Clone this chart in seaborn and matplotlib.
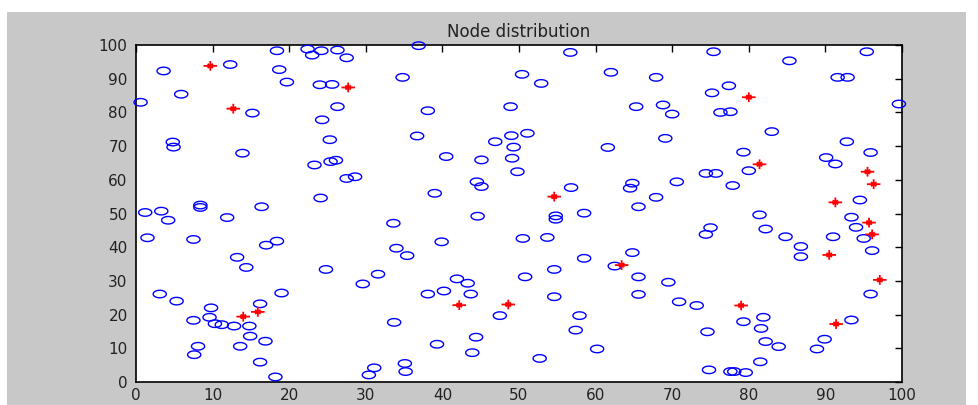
import numpy as np
import matplotlib
matplotlib.use("Agg")
import matplotlib.pyplot as plt
import seaborn as sns
from matplotlib.path import Path
from matplotlib.patches import Rectangle

# sensor nodes (blue circles)
node_x = [3.6, 0.6, 5.9, 4.8, 4.9, 12.3, 15.2, 13.9, 18.4, 18.7, 19.7, 22.4, 23.0, 24.2,
          24.0, 25.6, 24.3, 25.3, 23.3, 25.4, 26.1, 24.1, 8.4, 8.4, 16.4, 1.2, 3.3, 4.2,
          1.5, 7.5, 11.9, 13.2, 14.4, 17.0, 18.4, 24.8, 3.1, 5.3, 19.0, 16.2, 9.8, 9.6,
          7.5, 10.3, 11.2, 12.8, 14.8, 14.9, 16.9, 13.6, 8.1, 7.6, 16.2, 18.2,
          26.3, 27.5, 36.9, 34.8, 26.3, 38.1, 36.7, 40.5, 27.5, 28.6, 39.0, 45.1, 46.9,
          48.9, 50.4, 49.0, 49.3, 49.1, 49.8, 44.5, 45.1, 44.6,
          33.6, 39.9, 34.0, 35.4, 31.6, 29.6, 41.9, 43.3, 38.1, 40.2, 43.7, 47.5, 33.7,
          44.4, 39.3, 43.9, 35.1, 35.2, 31.1, 30.4, 50.5, 50.8,
          56.7, 52.9, 62.0, 67.9, 75.4, 75.2, 65.3, 68.8, 70.0, 51.1, 61.6, 69.1, 56.8,
          64.8, 64.5, 70.6, 67.9, 65.6,
          54.8, 54.8, 58.5, 53.7, 58.5, 64.8, 62.5, 54.6, 65.6, 69.5, 65.6, 54.6, 70.9,
          73.2, 57.9, 57.4, 60.2, 52.7, 74.6, 74.8, 74.4, 75.0,
          85.3, 95.4, 91.6, 92.9, 77.4, 76.3, 77.6, 99.6, 83.0, 92.8, 79.3, 95.9, 90.1,
          91.3, 80.0, 74.4, 75.7, 77.9, 94.5,
          81.4, 82.2, 84.8, 86.8, 86.8, 91.0, 93.4, 94.0, 95.0, 96.1, 95.9, 79.3, 81.9,
          81.6, 93.4, 82.2, 83.9, 89.9, 88.9, 81.5, 77.6, 78.1, 79.6]
node_y = [92.3, 83.0, 85.4, 71.2, 69.7, 94.2, 79.8, 67.9, 98.3, 92.7, 89.0, 98.8, 97.0, 98.3,
          88.2, 88.3, 77.8, 71.9, 64.4, 65.4, 65.8, 54.6, 52.5, 51.8, 52.0, 50.3, 50.7, 48.0,
          42.8, 42.3, 48.8, 37.0, 34.0, 40.6, 41.8, 33.4, 26.1, 24.0, 26.4, 23.2, 22.0, 19.2,
          18.3, 17.3, 17.0, 16.6, 16.6, 13.6, 12.1, 10.6, 10.6, 8.1, 5.9, 1.5,
          98.5, 96.2, 99.8, 90.4, 81.7, 80.5, 73.0, 66.9, 60.4, 60.9, 56.0, 65.9, 71.3,
          81.7, 91.3, 73.1, 69.7, 66.4, 62.4, 59.4, 58.0, 49.2,
          47.1, 41.6, 39.7, 37.5, 32.0, 29.1, 30.6, 29.3, 26.1, 27.0, 26.1, 19.7, 17.7,
          13.3, 11.2, 8.7, 5.5, 3.1, 4.2, 2.1, 42.6, 31.2,
          97.8, 88.6, 91.9, 90.4, 98.0, 85.8, 81.7, 82.2, 79.5, 73.8, 69.6, 72.3, 57.7,
          59.0, 57.5, 59.4, 54.8, 52.0,
          49.3, 48.3, 50.1, 42.9, 36.7, 38.4, 34.4, 33.4, 31.2, 29.6, 26.0, 25.3, 23.8,
          22.7, 19.7, 15.4, 9.8, 7.0, 14.9, 3.6, 43.8, 45.8,
          95.3, 98.0, 90.4, 90.4, 87.9, 80.0, 80.2, 82.5, 74.3, 71.3, 68.2, 68.1, 66.6,
          64.7, 62.7, 61.9, 61.9, 58.3, 54.0,
          49.6, 45.4, 43.1, 40.2, 37.2, 43.1, 48.9, 45.9, 42.6, 39.0, 26.1, 17.9, 19.2,
          15.9, 18.4, 12.0, 10.5, 12.7, 9.8, 6.0, 3.1, 3.1, 2.8]

# cluster heads (red stars)
head_x = [9.7, 12.7, 27.7, 14.0, 15.9, 42.2, 48.6, 54.6, 63.4, 80.0,
          81.4, 79.0, 90.5, 91.3, 91.4, 95.5, 96.3, 95.7, 96.1, 97.1]
head_y = [93.8, 81.1, 87.4, 19.4, 20.8, 22.8, 23.0, 55.0, 34.7, 84.5,
          64.6, 22.7, 37.7, 53.3, 17.2, 62.4, 58.7, 47.3, 43.8, 30.3]

ticks = list(range(0, 101, 10))
title = "Node distribution"

sns.set_style("white")
plt.rcParams["font.family"] = ["DejaVu Sans"]

# the screenshot is stretched sideways, so the circles come out as flat ellipses
t = np.linspace(0, 2 * np.pi, 41)
ring = Path(np.column_stack([np.cos(t), 0.57 * np.sin(t)]), closed=True)
star = Path([(-1, 0), (1, 0), (0, -0.72), (0, 0.72),
             (-0.4, -0.3), (0.4, 0.3), (-0.4, 0.3), (0.4, -0.3)],
            [Path.MOVETO, Path.LINETO] * 4)

fig = plt.figure(figsize=(9.79, 4.05), dpi=100, facecolor="white")
fig.patches.append(Rectangle((7 / 979, 0), 959 / 979, 393 / 405, transform=fig.transFigure,
                             facecolor="#c8c8c8", edgecolor="none", zorder=-1))
ax = fig.add_axes([136 / 979, 23 / 405, 766 / 979, 337 / 405])
ax.set_facecolor("white")

sns.scatterplot(x=node_x, y=node_y, ax=ax, marker=ring, s=90, color="blue",
                facecolor="none", edgecolor="blue", linewidth=1.0, clip_on=False, zorder=3)
sns.scatterplot(x=head_x, y=head_y, ax=ax, marker=star, s=95, color="red",
                facecolor="none", edgecolor="red", linewidth=1.3, clip_on=False, zorder=4)

ax.set_xlim(0, 100)
ax.set_ylim(0, 100)
ax.set_xticks(ticks)
ax.set_yticks(ticks)
ax.tick_params(direction="in", top=True, right=True, length=5, width=1,
               labelsize=11, labelcolor="#222222", color="black")
ax.tick_params(axis="x", pad=4)
ax.tick_params(axis="y", pad=6)
for sp in ax.spines.values():
    sp.set_visible(True)
    sp.set_color("black")
    sp.set_linewidth(1.2)
ax.set_title(title, fontsize=12, color="#222222", pad=6)

plt.savefig("out.png", dpi=100)
